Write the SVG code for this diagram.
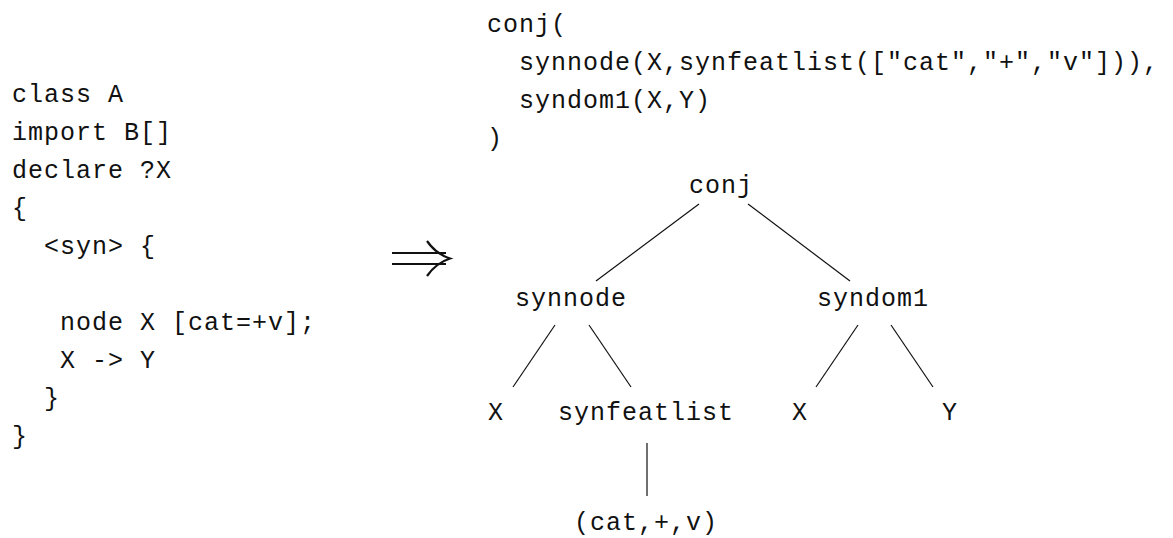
<svg xmlns="http://www.w3.org/2000/svg" width="1173" height="538" viewBox="0 0 1173 538">
<style>
text{font-family:"Liberation Mono","DejaVu Sans Mono",monospace;font-size:25px;letter-spacing:1px;fill:#111;white-space:pre}
.c{text-anchor:middle}
.e{stroke:#111;stroke-width:1.2;fill:none}
</style>
<rect width="1173" height="538" fill="#fff"/>
<g id="code-left">
<text x="12" y="102">class A</text>
<text x="12" y="140">import B[]</text>
<text x="12" y="178">declare ?X</text>
<text x="12" y="216">{</text>
<text x="44" y="254">&lt;syn&gt; {</text>
<text x="60" y="330">node X [cat=+v];</text>
<text x="60" y="368">X -&gt; Y</text>
<text x="44" y="406">}</text>
<text x="12" y="444">}</text>
</g>
<g id="arrow">
<path d="M392,253 H446 M392,264 H446 M427,241 Q436,254 450,258.5 Q436,263 427,276" stroke="#111" stroke-width="2.2" fill="none"/>
</g>
<g id="code-right">
<text x="487" y="32">conj(</text>
<text x="519" y="70">synnode(X,synfeatlist(["cat","+","v"])),</text>
<text x="519" y="108">syndom1(X,Y)</text>
<text x="487" y="146">)</text>
</g>
<g id="connectors">
<line class="e" x1="699" y1="204" x2="596" y2="281"/>
<line class="e" x1="748" y1="204" x2="850" y2="281"/>
<line class="e" x1="555" y1="325" x2="513" y2="387"/>
<line class="e" x1="589" y1="325" x2="631" y2="387"/>
<line class="e" x1="858" y1="325" x2="816" y2="387"/>
<line class="e" x1="891" y1="325" x2="933" y2="387"/>
<line class="e" x1="647" y1="443" x2="647" y2="496"/>
</g>
<g id="n-conj"><text class="c" x="721" y="193">conj</text></g>
<g id="n-synnode"><text class="c" x="571" y="306">synnode</text></g>
<g id="n-syndom1"><text class="c" x="873" y="306">syndom1</text></g>
<g id="n-x1"><text class="c" x="496" y="420">X</text></g>
<g id="n-synfeatlist"><text class="c" x="646" y="420">synfeatlist</text></g>
<g id="n-x2"><text class="c" x="800" y="420">X</text></g>
<g id="n-y"><text class="c" x="950" y="420">Y</text></g>
<g id="n-feat"><text class="c" x="646" y="530">(cat,+,v)</text></g>
</svg>
